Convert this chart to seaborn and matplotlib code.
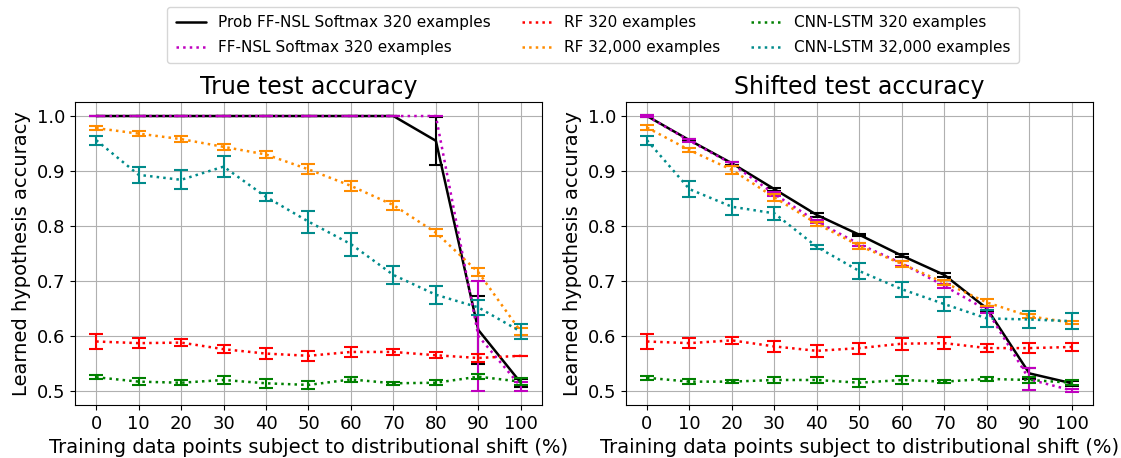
import matplotlib
matplotlib.use('Agg')
import matplotlib.pyplot as plt
import seaborn as sns
import pandas as pd

shift = [0, 10, 20, 30, 40, 50, 60, 70, 80, 90, 100]

labels = ['Prob FF-NSL Softmax 320 examples', 'FF-NSL Softmax 320 examples',
          'RF 320 examples', 'RF 32,000 examples',
          'CNN-LSTM 320 examples', 'CNN-LSTM 32,000 examples']
colors = ['black', 'm', 'red', 'darkorange', 'green', 'darkcyan']
styles = ['-', ':', ':', ':', ':', ':']

# True test accuracy (means and error half-widths)
true_prob_ffnsl = [1.0, 1.0, 1.0, 1.0, 1.0, 1.0, 1.0, 1.0, 0.955, 0.611, 0.515]
true_prob_ffnsl_err = [0, 0, 0, 0, 0, 0, 0, 0, 0.044, 0.062, 0.007]
true_ffnsl = [1.0, 1.0, 1.0, 1.0, 1.0, 1.0, 1.0, 1.0, 1.0, 0.6, 0.508]
true_ffnsl_err = [0, 0, 0, 0, 0, 0, 0, 0, 0, 0.1, 0.008]
true_rf320 = [0.590, 0.587, 0.588, 0.576, 0.568, 0.564, 0.571, 0.571, 0.565, 0.560, 0.564]
true_rf320_err = [0.013, 0.009, 0.006, 0.007, 0.010, 0.009, 0.009, 0.006, 0.005, 0.008, 0.0]
true_rf32k = [0.978, 0.968, 0.958, 0.944, 0.930, 0.903, 0.873, 0.838, 0.788, 0.716, 0.608]
true_rf32k_err = [0.004, 0.004, 0.005, 0.006, 0.007, 0.009, 0.009, 0.008, 0.007, 0.007, 0.006]
true_cnn320 = [0.525, 0.517, 0.515, 0.520, 0.514, 0.511, 0.521, 0.514, 0.515, 0.526, 0.517]
true_cnn320_err = [0.004, 0.006, 0.005, 0.007, 0.008, 0.008, 0.004, 0.003, 0.005, 0.005, 0.006]
true_cnn32k = [0.956, 0.893, 0.884, 0.908, 0.853, 0.808, 0.767, 0.711, 0.675, 0.652, 0.608]
true_cnn32k_err = [0.008, 0.015, 0.017, 0.019, 0.007, 0.020, 0.021, 0.017, 0.016, 0.014, 0.013]

# Shifted test accuracy
shift_prob_ffnsl = [1.0, 0.956, 0.914, 0.867, 0.820, 0.784, 0.746, 0.711, 0.650, 0.532, 0.514]
shift_prob_ffnsl_err = [0.001, 0.002, 0.003, 0.003, 0.003, 0.002, 0.003, 0.003, 0.005, 0.010, 0.005]
shift_ffnsl = [1.0, 0.955, 0.913, 0.858, 0.808, 0.767, 0.732, 0.691, 0.647, 0.521, 0.501]
shift_ffnsl_err = [0.001, 0.003, 0.004, 0.004, 0.003, 0.003, 0.004, 0.004, 0.005, 0.020, 0.003]
shift_rf320 = [0.590, 0.587, 0.592, 0.581, 0.573, 0.578, 0.586, 0.587, 0.578, 0.578, 0.580]
shift_rf320_err = [0.013, 0.009, 0.007, 0.010, 0.011, 0.010, 0.011, 0.011, 0.007, 0.009, 0.007]
shift_rf32k = [0.979, 0.938, 0.902, 0.852, 0.804, 0.764, 0.731, 0.697, 0.661, 0.636, 0.624]
shift_rf32k_err = [0.004, 0.004, 0.007, 0.006, 0.004, 0.005, 0.005, 0.005, 0.006, 0.004, 0.003]
shift_cnn320 = [0.524, 0.517, 0.517, 0.520, 0.520, 0.515, 0.520, 0.517, 0.522, 0.520, 0.515]
shift_cnn320_err = [0.004, 0.005, 0.003, 0.005, 0.005, 0.007, 0.007, 0.003, 0.004, 0.005, 0.005]
shift_cnn32k = [0.956, 0.867, 0.835, 0.823, 0.762, 0.718, 0.685, 0.658, 0.632, 0.630, 0.627]
shift_cnn32k_err = [0.008, 0.014, 0.015, 0.012, 0.004, 0.014, 0.014, 0.012, 0.015, 0.015, 0.015]

true_vals = [(true_prob_ffnsl, true_prob_ffnsl_err), (true_ffnsl, true_ffnsl_err),
             (true_rf320, true_rf320_err), (true_rf32k, true_rf32k_err),
             (true_cnn320, true_cnn320_err), (true_cnn32k, true_cnn32k_err)]
shift_vals = [(shift_prob_ffnsl, shift_prob_ffnsl_err), (shift_ffnsl, shift_ffnsl_err),
              (shift_rf320, shift_rf320_err), (shift_rf32k, shift_rf32k_err),
              (shift_cnn320, shift_cnn320_err), (shift_cnn32k, shift_cnn32k_err)]

sns.set_style('ticks', {'text.color': 'black', 'axes.labelcolor': 'black',
                        'xtick.color': 'black', 'ytick.color': 'black',
                        'axes.edgecolor': 'black'})
plt.rcParams['font.family'] = ['DejaVu Sans']

fig = plt.figure(figsize=(11.21, 4.58), dpi=100)
ax1 = fig.add_axes([0.0669, 0.1157, 0.4166, 0.6616])
ax2 = fig.add_axes([0.5582, 0.1157, 0.4169, 0.6616])


def draw_panel(ax, vals, title):
    for (y, err), lab, col, ls in zip(vals, labels, colors, styles):
        df = pd.DataFrame({'shift': shift, 'acc': y})
        sns.lineplot(data=df, x='shift', y='acc', ax=ax, color=col, linestyle=ls,
                     linewidth=1.8, label=lab, legend=False)
        ax.errorbar(shift, y, yerr=err, fmt='none', ecolor=col, elinewidth=1.5,
                    capsize=5, capthick=1.5)
    ax.set_title(title, fontsize=17)
    ax.set_xlabel('Training data points subject to distributional shift (%)', fontsize=14)
    ax.set_ylabel('Learned hypothesis accuracy', fontsize=14)
    ax.set_xticks(shift)
    ax.set_yticks([0.5, 0.6, 0.7, 0.8, 0.9, 1.0])
    ax.tick_params(labelsize=13)
    ax.set_xlim(-5, 105)
    ax.set_ylim(0.4745, 1.0255)
    ax.grid(True, color='#b0b0b0', linewidth=0.8)


draw_panel(ax1, true_vals, 'True test accuracy')
draw_panel(ax2, shift_vals, 'Shifted test accuracy')

handles, labs = ax1.get_legend_handles_labels()
fig.legend(handles, labs, loc='upper center', bbox_to_anchor=(0.529, 1.002), ncol=3,
           fontsize=11, handlelength=2, columnspacing=2.0, labelspacing=0.65,
           borderpad=0.55, frameon=True)

fig.savefig('out.png', dpi=100)
